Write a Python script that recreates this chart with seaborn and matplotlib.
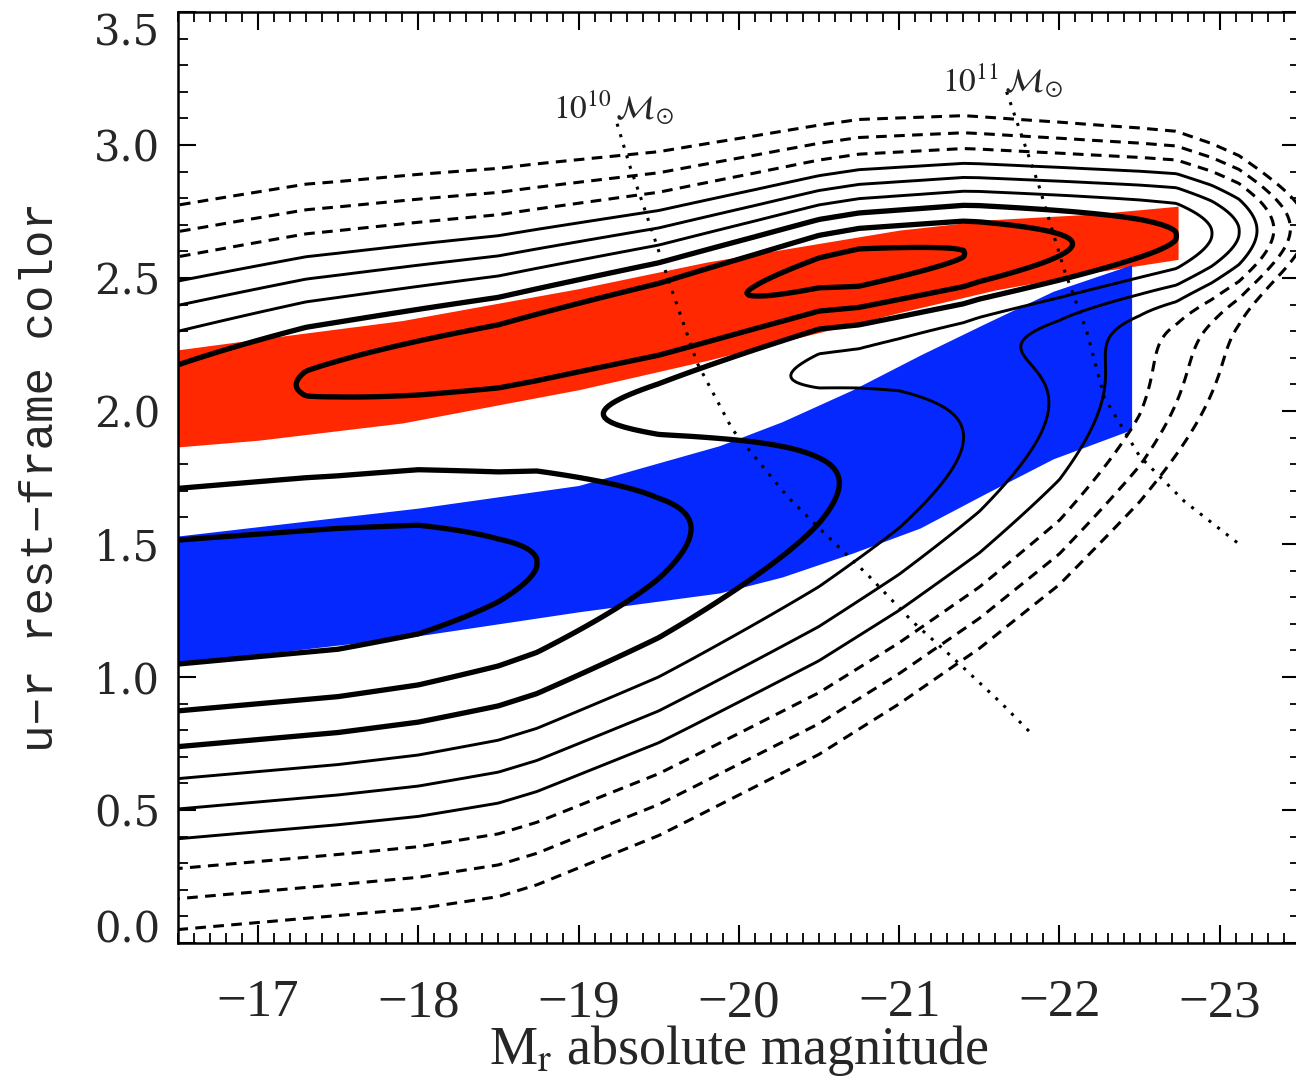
import numpy as np
import matplotlib
matplotlib.use("Agg")
import matplotlib.pyplot as plt
import seaborn as sns

# ---- values ----
# ridge lines / widths of the two populations (u-r colour vs M_r)
seq_mag = [-16.5, -17.5, -18.5, -19.5, -20.5, -21.5, -22.5, -23.5]
red_mu = [2.06, 2.14, 2.22, 2.35, 2.52, 2.60, 2.65, 2.69]
red_sig = [0.18, 0.165, 0.15, 0.13, 0.11, 0.105, 0.105, 0.105]
blue_mu = [1.28, 1.33, 1.40, 1.52, 1.70, 1.92, 2.15, 2.30]
blue_sig = [0.28, 0.28, 0.29, 0.29, 0.29, 0.28, 0.27, 0.27]

# peak height along each ridge (relative units, from where contours close)
red_amp_mag = [-16.5, -17.3, -18.5, -20.1, -20.75, -21.4, -22.07, -22.73, -22.95, -23.12, -23.25, -23.4, -23.6]
red_amp = [0.22, 0.37, 0.5, 0.8, 1.0, 0.8, 0.4, 0.2, 0.1, 0.05, 0.022, 0.008, 0.002]
blue_amp_mag = [-16.5, -17.5, -18.0, -18.74, -19.7, -20.5, -21.0, -21.5, -22.0, -22.5, -23.0, -23.5]
blue_amp = [1.15, 1.13, 1.05, 0.8, 0.4, 0.22, 0.15, 0.09, 0.045, 0.015, 0.003, 0.0005]

contour_levels = [0.003125, 0.00625, 0.0125, 0.025, 0.05, 0.1, 0.2, 0.4, 0.8]

# shaded selection bands
red_band_mag = [-16.5, -17.0, -17.9, -19.0, -19.8, -21.0, -21.6, -22.2, -22.74]
red_band_top = [2.23, 2.27, 2.34, 2.46, 2.56, 2.68, 2.72, 2.74, 2.77]
red_band_bot = [1.865, 1.89, 1.955, 2.08, 2.19, 2.37, 2.455, 2.52, 2.57]
blue_band_mag = [-16.5, -17.0, -18.0, -19.0, -19.88, -20.27, -20.71, -21.13, -21.54, -21.96, -22.45]
blue_band_top = [1.53, 1.565, 1.635, 1.72, 1.87, 1.96, 2.08, 2.21, 2.33, 2.45, 2.55]
blue_band_bot = [1.045, 1.085, 1.155, 1.245, 1.316, 1.376, 1.466, 1.56, 1.69, 1.82, 1.93]

# constant stellar-mass lines
m10_mag = [-19.24, -19.32, -19.40, -19.59, -19.74, -19.96, -20.30, -20.50, -20.81, -21.08, -21.33, -21.64, -21.82]
m10_col = [3.08, 2.92, 2.78, 2.44, 2.18, 1.93, 1.68, 1.56, 1.38, 1.21, 1.075, 0.90, 0.79]
m11_mag = [-21.67, -21.75, -21.87, -22.03, -22.17, -22.28, -22.50, -22.78, -23.12]
m11_col = [3.20, 3.06, 2.85, 2.53, 2.30, 2.05, 1.83, 1.66, 1.50]


def along(mag, nodes, vals, log=False):
    xp = -np.asarray(nodes)
    if log:
        return np.exp(np.interp(-mag, xp, np.log(vals)))
    return np.interp(-mag, xp, vals)


def profile(d, s, nu):
    return (1 + (d / s) ** 2 / nu) ** (-(nu + 1) / 2)


mm, cc = np.meshgrid(np.linspace(-23.6, -16.4, 420), np.linspace(-0.1, 3.6, 420))
dens = (along(mm, red_amp_mag, red_amp, log=True)
        * profile(cc - along(mm, seq_mag, red_mu), along(mm, seq_mag, red_sig), 6)
        + along(mm, blue_amp_mag, blue_amp, log=True)
        * profile(cc - along(mm, seq_mag, blue_mu), along(mm, seq_mag, blue_sig), 10))

sns.set_style("ticks")
plt.rcParams["mathtext.fontset"] = "stix"
plt.rcParams["lines.dashed_pattern"] = [3.5, 2.4]

fig = plt.figure(figsize=(12.96, 10.83), dpi=100)
ax = fig.add_axes([0.1373, 0.1293, 0.8657, 0.8596])

ax.fill_between(red_band_mag, red_band_bot, red_band_top, color="#ff2800", lw=0, zorder=1)
ax.fill_between(blue_band_mag, blue_band_bot, blue_band_top, color="#0528ff", lw=0, zorder=1)

ax.contour(mm, cc, dens, levels=contour_levels, colors="black",
           linewidths=[2.2, 2.2, 2.2, 2.1, 2.1, 2.1, 3.8, 3.8, 3.8],
           linestyles=["--", "--", "--", "-", "-", "-", "-", "-", "-"], zorder=2)

for xs, ys in [(m10_mag, m10_col), (m11_mag, m11_col)]:
    sns.lineplot(x=xs, y=ys, sort=False, estimator=None, color="black",
                 lw=2.2, linestyle=(0, (1, 2.6)), ax=ax, zorder=3)

ax.text(-18.84, 3.10, r"$10^{10}\,\mathcal{M}_{\odot}$", fontsize=24, zorder=4)
ax.text(-21.27, 3.20, r"$10^{11}\,\mathcal{M}_{\odot}$", fontsize=24, zorder=4)

ax.set_xlim(-16.5, -23.5)
ax.set_ylim(0, 3.5)
ax.xaxis.set_major_locator(plt.MultipleLocator(1))
ax.xaxis.set_minor_locator(plt.MultipleLocator(0.1))
ax.yaxis.set_major_locator(plt.MultipleLocator(0.5))
ax.yaxis.set_minor_locator(plt.MultipleLocator(0.1))
ax.yaxis.set_major_formatter(plt.FormatStrFormatter("%.1f"))
ax.tick_params(which="both", direction="in", top=True, right=True, color="black")
ax.tick_params(which="major", length=13, width=1.5)
ax.tick_params(which="minor", length=7, width=1.3)
ax.tick_params(axis="x", which="major", pad=26)
ax.tick_params(axis="y", which="major", pad=13)
for lab in ax.get_xticklabels():
    lab.set_fontfamily("Liberation Serif")
    lab.set_fontsize(38)
for lab in ax.get_yticklabels():
    lab.set_fontfamily("DejaVu Serif")
    lab.set_fontsize(30)
for sp in ax.spines.values():
    sp.set_linewidth(1.8)
    sp.set_color("black")

ax.set_xlabel(r"M$_{\rm r}$ absolute magnitude", fontsize=39,
              fontfamily="Liberation Serif", va="top")
ax.xaxis.set_label_coords(0.5, -0.086)
ax.set_ylabel("u\u2212r rest\u2212frame color", fontsize=33,
              fontfamily="Liberation Mono", labelpad=22)

# end labels sit inside the frame, as in the original
fig.canvas.draw()
for tk in ax.yaxis.get_major_ticks():
    if abs(tk.get_loc()) < 1e-6:
        tk.label1.set_verticalalignment("baseline")
    elif abs(tk.get_loc() - 3.5) < 1e-6:
        tk.label1.set_verticalalignment("top")

fig.savefig("out.png", dpi=100)
